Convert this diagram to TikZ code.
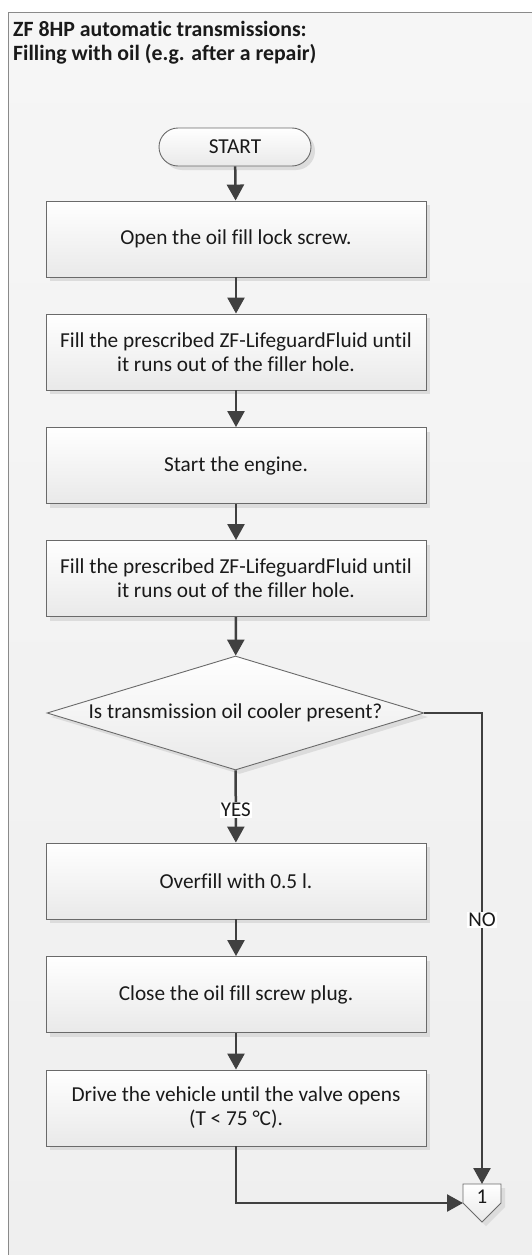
\documentclass[tikz,border=0pt]{standalone}
\usepackage{fontspec}
\setmainfont{Carlito}[Ligatures=CommonOff]
\usetikzlibrary{arrows.meta,shadows,shapes.geometric}
\definecolor{arr}{HTML}{404040}
\definecolor{boxline}{HTML}{6A6A6A}
\definecolor{boxbot}{HTML}{E9E9E9}
\definecolor{shad}{HTML}{DCDCDC}
\definecolor{bgtop}{HTML}{F6F6F6}
\definecolor{bgbot}{HTML}{EFEFEF}
\definecolor{framec}{HTML}{8A8A8A}
\definecolor{txt}{HTML}{1A1A1A}
\tikzset{
  base/.style={draw=boxline, line width=0.9pt, top color=white, bottom color=boxbot,
    text=txt, align=center, inner sep=0pt, font=\fontsize{21.3}{24}\selectfont,
    drop shadow={shadow xshift=4pt, shadow yshift=-4pt, fill=shad, opacity=1}},
  stepbox/.style={base, rectangle, minimum width=380pt, minimum height=76pt},
  term/.style={base, rectangle, rounded corners=19pt, minimum width=152pt, minimum height=38pt},
  decide/.style={base, diamond, aspect=3.31, minimum width=377pt, minimum height=114pt},
  flow/.style={draw=arr, line width=2.5pt, -{Triangle[length=16pt,width=17pt]}},
  lbl/.style={fill=white, text=txt, inner sep=1pt, font=\fontsize{21}{24}\selectfont},
  ttl/.style={text=txt, inner sep=0pt, anchor=base west, font=\fontsize{21.8}{24}\selectfont\bfseries}
}
\begin{document}
\begin{tikzpicture}[x=1pt,y=-1pt]
\useasboundingbox (0,0) rectangle (531,1255);
\fill[white] (0,0) rectangle (531,1255);
\shade[top color=bgtop, bottom color=bgbot] (8.5,12.5) rectangle (545,1270);
\draw[framec, line width=1.5pt] (545,12.5) -- (8.5,12.5) -- (8.5,1270);

\node[ttl] (t1) at (13,36.5) {ZF 8HP automatic transmissions:};
\node[ttl] (t2) at (13,61) {Filling with oil (e.g. after a repair)};

\node[term] (start) at (235,147) {START};
\node[stepbox] (b1) at (236,239) {Open the oil fill lock screw.};
\node[stepbox] (b2) at (236,352) {Fill the prescribed ZF-LifeguardFluid until\\it runs out of the filler hole.};
\node[stepbox] (b3) at (236,465.5) {Start the engine.};
\node[stepbox] (b4) at (236,578.5) {Fill the prescribed ZF-LifeguardFluid until\\it runs out of the filler hole.};
\node[decide] (dec) at (235.5,713) {Is transmission oil cooler present?};
\node[stepbox] (b5) at (236,881) {Overfill with 0.5 l.};
\node[stepbox] (b6) at (236,994.5) {Close the oil fill screw plug.};
\node[stepbox] (b7) at (236,1108) {Drive the vehicle until the valve opens\\(T < 75 °C).};

% off-page connector
\path[base] (463,1184) -- (501,1184) -- (501,1203) -- (482,1222) -- (463,1203) -- cycle;
\node[text=txt, inner sep=0pt, font=\fontsize{21}{24}\selectfont] (c1) at (482,1197) {1};
\coordinate (c1top) at (482,1184);
\coordinate (c1left) at (463,1203);

\draw[flow] (start) -- (b1);
\draw[flow] (b1) -- (b2);
\draw[flow] (b2) -- (b3);
\draw[flow] (b3) -- (b4);
\draw[flow] (b4) -- (dec);
\draw[flow] (dec) -- node[lbl, pos=0.55] (yes) {YES} (b5);
\draw[flow] (b5) -- (b6);
\draw[flow] (b6) -- (b7);
\draw[flow] (dec.east) -| node[lbl, pos=0.72] (no) {NO} (c1top);
\draw[flow] (b7.south) |- (c1left);
\end{tikzpicture}
\end{document}
